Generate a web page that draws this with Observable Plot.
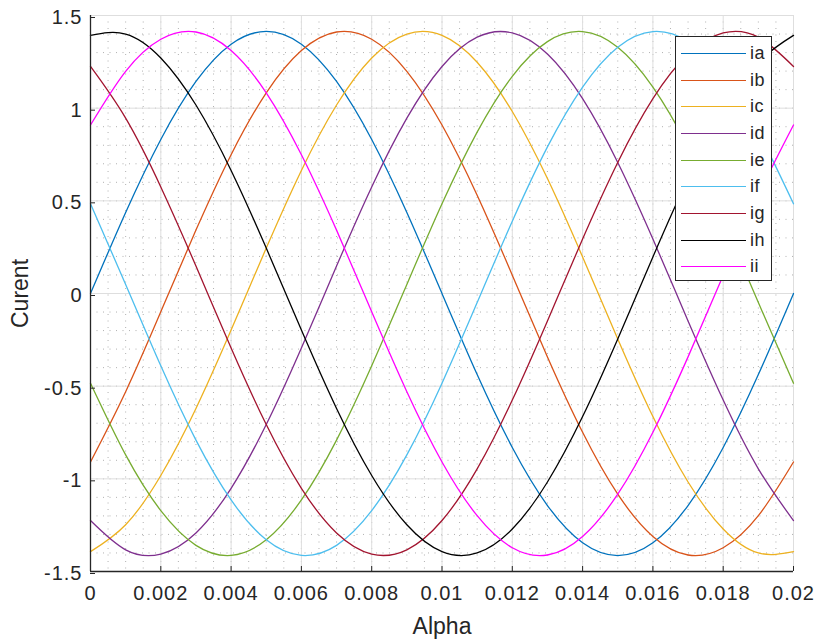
<!DOCTYPE html>
<html>
<head>
<meta charset="utf-8">
<script src="https://cdn.jsdelivr.net/npm/d3@7"></script>
<script src="https://cdn.jsdelivr.net/npm/@observablehq/plot@0.6"></script>
<style>
  html, body { margin: 0; padding: 0; background: #fff; }
  #wrap { position: relative; width: 819px; height: 643px; font-family: "Liberation Sans", Arial, Helvetica, sans-serif; }
  #legend { position: absolute; left: 675px; top: 36px; width: 97px; height: 245px; box-sizing: border-box;
            border: 1px solid #262626; background: #fff; padding-top: 3px; }
  .item { display: flex; align-items: center; height: 26.7px; }
  .item .ln { width: 65px; height: 0; border-top: 1.3px solid; margin-left: 5px; margin-right: 4px; }
  .item span { font-size: 18px; color: #262626; letter-spacing: 0.5px; }
</style>
</head>
<body>
<div id="wrap"><div id="chart"></div><div id="legend"></div></div>
<script>
const alpha = [0, 0.001, 0.002, 0.003, 0.004, 0.005, 0.006, 0.007, 0.008, 0.009, 0.010,
               0.011, 0.012, 0.013, 0.014, 0.015, 0.016, 0.017, 0.018, 0.019, 0.020];
const names = ["ia", "ib", "ic", "id", "ie", "if", "ig", "ih", "ii"];
const colors = ["#0072BD", "#D95319", "#EDB120", "#7E2F8E", "#77AC30", "#4DBEEE", "#A2142F", "#000000", "#FF00FF"];

const ia = [0, 0.437, 0.831, 1.144, 1.345, 1.414, 1.345, 1.144, 0.831, 0.437, 0, -0.437, -0.831, -1.144, -1.345, -1.414, -1.345, -1.144, -0.831, -0.437, 0];
const ib = [-0.909, -0.530, -0.099, 0.342, 0.749, 1.083, 1.311, 1.411, 1.372, 1.199, 0.909, 0.530, 0.099, -0.342, -0.749, -1.083, -1.311, -1.411, -1.372, -1.199, -0.909];
const ic = [-1.393, -1.248, -0.982, -0.620, -0.197, 0.245, 0.664, 1.017, 1.271, 1.400, 1.393, 1.248, 0.982, 0.620, 0.197, -0.245, -0.664, -1.017, -1.271, -1.400, -1.393];
const id = [-1.225, -1.383, -1.406, -1.292, -1.051, -0.707, -0.294, 0.148, 0.575, 0.946, 1.225, 1.383, 1.406, 1.292, 1.051, 0.707, 0.294, -0.148, -0.575, -0.946, -1.225];
const ie = [-0.484, -0.871, -1.172, -1.359, -1.413, -1.329, -1.114, -0.791, -0.390, 0.049, 0.484, 0.871, 1.172, 1.359, 1.413, 1.329, 1.114, 0.791, 0.390, -0.049, -0.484];
const iff = [0.484, 0.049, -0.390, -0.791, -1.114, -1.329, -1.413, -1.359, -1.172, -0.871, -0.484, -0.049, 0.390, 0.791, 1.114, 1.329, 1.413, 1.359, 1.172, 0.871, 0.484];
const ig = [1.225, 0.946, 0.575, 0.148, -0.294, -0.707, -1.051, -1.292, -1.406, -1.383, -1.225, -0.946, -0.575, -0.148, 0.294, 0.707, 1.051, 1.292, 1.406, 1.383, 1.225];
const ih = [1.393, 1.400, 1.271, 1.017, 0.664, 0.245, -0.197, -0.620, -0.982, -1.248, -1.393, -1.400, -1.271, -1.017, -0.664, -0.245, 0.197, 0.620, 0.982, 1.248, 1.393];
const ii = [0.909, 1.199, 1.372, 1.411, 1.311, 1.083, 0.749, 0.342, -0.099, -0.530, -0.909, -1.199, -1.372, -1.411, -1.311, -1.083, -0.749, -0.342, 0.099, 0.530, 0.909];

const xTicks = [0, 0.002, 0.004, 0.006, 0.008, 0.01, 0.012, 0.014, 0.016, 0.018, 0.02];
const yTicks = [-1.5, -1, -0.5, 0, 0.5, 1, 1.5];
const xMinor = d3.range(0, 41).map(i => +(i * 0.0005).toFixed(4));
const yMinor = d3.range(-15, 16).map(i => +(i * 0.1).toFixed(2));

const seriesVals = [ia, ib, ic, id, ie, iff, ig, ih, ii];
const rows = [];
names.forEach((n, k) => alpha.forEach((a, j) => rows.push({name: n, alpha: a, value: seriesVals[k][j]})));

const txt = "#262626";
const chart = Plot.plot({
  width: 819,
  height: 643,
  marginLeft: 90,
  marginRight: 26,
  marginTop: 15,
  marginBottom: 72,
  style: {fontFamily: '"Liberation Sans", Arial, Helvetica, sans-serif', fontSize: "20px", color: txt, background: "#fff"},
  x: {domain: [0, 0.02]},
  y: {domain: [-1.5, 1.5]},
  color: {domain: names, range: colors},
  marks: [
    Plot.gridX(xMinor, {stroke: "#a8a8a8", strokeOpacity: 1, strokeDasharray: "1,5.5", strokeWidth: 0.9}),
    Plot.gridY(yMinor, {stroke: "#a8a8a8", strokeOpacity: 1, strokeDasharray: "1,5.5", strokeWidth: 0.9}),
    Plot.gridX(xTicks, {stroke: "#dedede", strokeOpacity: 1}),
    Plot.gridY(yTicks, {stroke: "#dedede", strokeOpacity: 1}),
    Plot.line(rows, {x: "alpha", y: "value", z: "name", stroke: "name", strokeWidth: 1.3, curve: "natural"}),
    Plot.axisX(xTicks, {tickSize: -5, tickPadding: 19, stroke: txt, strokeOpacity: 1, fill: txt, fontSize: 20,
      tickFormat: d => d === 0 ? "0" : String(+d.toFixed(3)),
      label: "Alpha", labelAnchor: "center", labelArrow: "none", labelOffset: 62}),
    Plot.axisY(yTicks, {tickSize: -5, tickPadding: 13, dy: 2, stroke: txt, strokeOpacity: 1, fill: txt, fontSize: 20,
      tickFormat: d => String(d),
      label: "Curent", labelAnchor: "center", labelArrow: "none", labelOffset: 79}),
    Plot.ruleY([-1.5], {stroke: txt, strokeWidth: 1.3}),
    Plot.ruleX([0], {stroke: txt, strokeWidth: 1.3})
  ]
});
document.getElementById("chart").appendChild(chart);
d3.select(chart).selectAll("g[aria-label='x-axis tick label'] text, g[aria-label='y-axis tick label'] text")
  .style("letter-spacing", "1px");
d3.select(chart).selectAll("g[aria-label='x-axis label'] text, g[aria-label='y-axis label'] text")
  .style("font-size", "23px");

const legend = document.getElementById("legend");
names.forEach((n, k) => {
  const it = document.createElement("div");
  it.className = "item";
  it.innerHTML = `<div class="ln" style="border-color:${colors[k]}"></div><span>${n}</span>`;
  legend.appendChild(it);
});
</script>
</body>
</html>
